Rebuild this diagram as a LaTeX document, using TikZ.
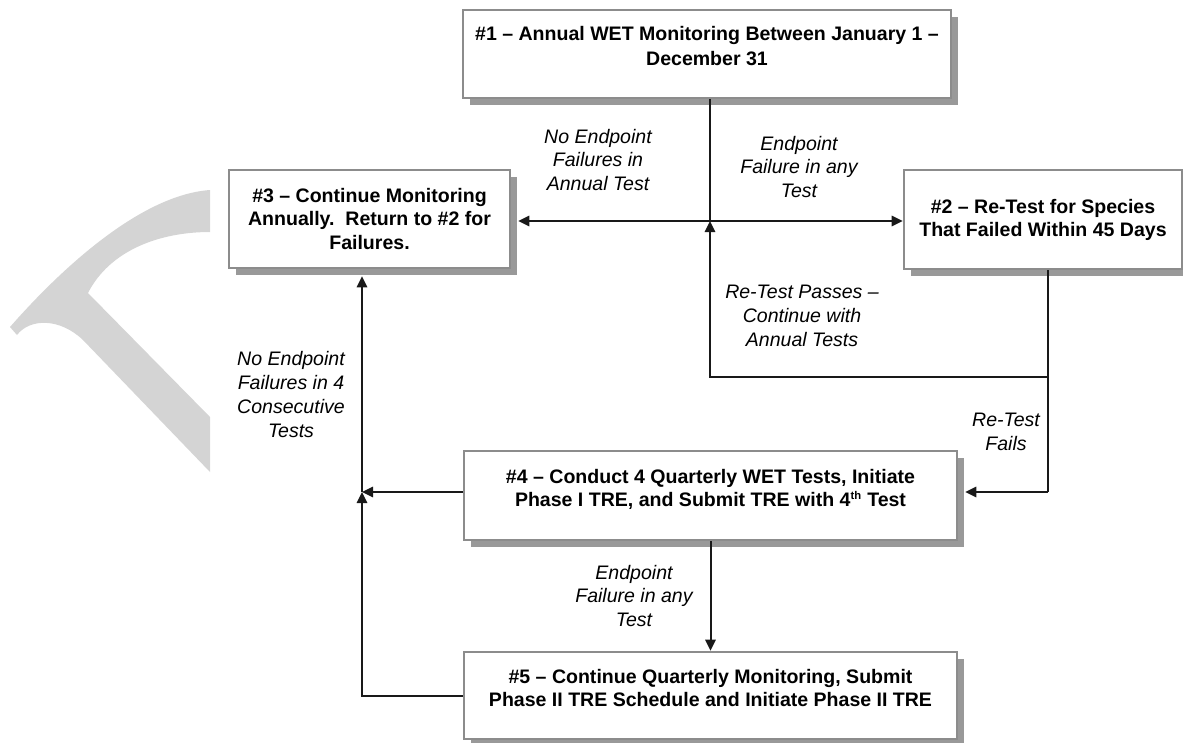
\documentclass[tikz,border=0pt]{standalone}
\usepackage{fontspec}
\setmainfont{Liberation Sans}
\usetikzlibrary{arrows.meta,shadows}
\def\lifttext#1{\raisebox{0.13cm}[\height][\depth]{\begin{tabular}{@{}c@{}}#1\end{tabular}}}

\tikzset{
  box/.style={draw=black!45, line width=0.06cm, fill=white, align=center, inner sep=0pt,
    font=\fontsize{13.9}{16.4}\selectfont\bfseries,
    drop shadow={shadow xshift=0.175cm, shadow yshift=-0.175cm, fill=black!40, opacity=1}},
  flow/.style={line width=0.05cm, black!90},
  arr/.style={flow, -{Triangle[length=0.28cm,width=0.26cm]}},
  note/.style={align=center, font=\fontsize{13.9}{17}\selectfont\itshape}
}

\begin{document}
\begin{tikzpicture}
  \useasboundingbox (0,0) rectangle (29.575,-18.55);

  \fill[black!17] (5.25,-4.75) .. controls (3.5,-4.875) and (1.5,-6.75) .. (0.25,-8.175)
    -- (0.425,-8.375) .. controls (0.75,-7.95) and (1.5,-7.95) .. (2.075,-8.5)
    -- (5.25,-11.8) -- (5.25,-10.425) -- (2.2,-7.325)
    .. controls (2.75,-6.25) and (4,-5.8) .. (5.25,-5.8) -- cycle;

  \node[box, minimum width=12.2cm, minimum height=2.2cm] (annual) at (17.675,-1.35)
    {\lifttext{\#1 -- Annual WET Monitoring Between January 1 --\\[0.05cm]December 31}};
  \node[box, minimum width=6.95cm, minimum height=2.475cm] (retest) at (26.075,-5.4875)
    {\#2 -- Re-Test for Species\\That Failed Within 45 Days};
  \node[box, minimum width=7.025cm, minimum height=2.45cm] (continue) at (9.2375,-5.475)
    {\#3 -- Continue Monitoring\\Annually.\ \ Return to \#2 for\\Failures.};
  \node[box, minimum width=12.325cm, minimum height=2.225cm] (quarterly) at (17.7625,-12.3875)
    {\lifttext{\#4 -- Conduct 4 Quarterly WET Tests, Initiate\\Phase I TRE, and Submit TRE with 4\textsuperscript{\fontsize{8}{8}\selectfont th} Test}};
  \node[box, minimum width=12.325cm, minimum height=2.175cm] (phase2) at (17.7625,-17.3875)
    {\lifttext{\#5 -- Continue Quarterly Monitoring, Submit\\Phase II TRE Schedule and Initiate Phase II TRE}};

  \coordinate (split) at (17.75,-5.525);
  \coordinate (drop) at (26.2,-9.425);
  \coordinate (turn) at (26.2,-12.3);
  \coordinate (merge) at (9.05,-12.3);

  \draw[flow] (annual.south -| split) -- (split);
  \draw[arr] (split) -- (retest.west |- split);
  \draw[arr, shorten >=0.175cm] (split) -- (continue.east |- split);
  \draw[flow] (retest.south -| drop) -- (turn);
  \draw[arr, shorten >=0.175cm] (turn) -- (quarterly.east |- turn);
  \draw[arr] (drop) -- (split |- drop) -- (split);
  \draw[arr] (quarterly.west |- merge) -- (merge);
  \draw[arr] (phase2.west) -- (merge |- phase2.west) -- (merge);
  \draw[arr, shorten >=0.175cm] (merge) -- (merge |- continue.south);
  \draw[arr] (quarterly.south) -- (phase2.north);

  \node[note] (passAnnual) at (14.95,-4.0) {No Endpoint\\Failures in\\Annual Test};
  \node[note] (failAny) at (19.975,-4.175) {Endpoint\\Failure in any\\Test};
  \node[note] (retestPass) at (20.05,-7.9) {Re-Test Passes --\\Continue with\\Annual Tests};
  \node[note] (retestFail) at (25.15,-10.8) {Re-Test\\Fails};
  \node[note] (passFour) at (7.275,-9.86) {No Endpoint\\Failures in 4\\Consecutive\\Tests};
  \node[note] (failQuarter) at (15.85,-14.9) {Endpoint\\Failure in any\\Test};
\end{tikzpicture}
\end{document}
